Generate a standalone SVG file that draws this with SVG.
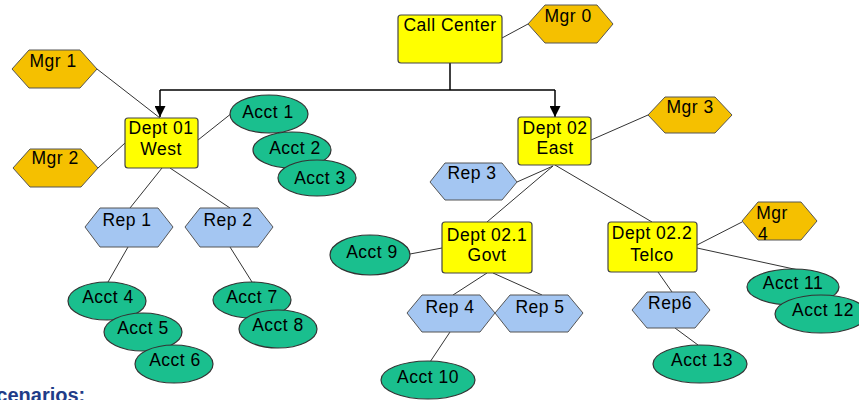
<svg xmlns="http://www.w3.org/2000/svg" width="859" height="400" viewBox="0 0 859 400">
<defs>
<marker id="arr" viewBox="0 0 10 10" refX="10" refY="5" markerWidth="11" markerHeight="11" markerUnits="userSpaceOnUse" orient="auto">
<path d="M0,0 L10,5 L0,10 Z" fill="#000"/>
</marker>
</defs>
<style>
text{font-family:"Liberation Sans",Arial,sans-serif;font-size:17.5px;letter-spacing:0.5px;fill:#000;text-anchor:middle}
.dept{fill:#ffff00;stroke:#444;stroke-width:1.2}
.mgr{fill:#f5c000;stroke:#555;stroke-width:1}
.rep{fill:#a4c6f2;stroke:#555;stroke-width:1}
.acct{fill:#1abf8e;stroke:#333;stroke-width:1.2}
.ln{stroke:#333;stroke-width:1;fill:none}
.main{stroke:#000;stroke-width:1.5;fill:none}
.title{font-weight:bold;fill:#1f3c88;font-size:20px;text-anchor:start;letter-spacing:0}
</style>
<rect width="859" height="400" fill="#fff"/>
<g id="connectors">
<path class="main" d="M450,63 V90"/>
<path class="main" d="M160,90 H555"/>
<path class="main" d="M160,90 V117" marker-end="url(#arr)"/>
<path class="main" d="M555,90 V117" marker-end="url(#arr)"/>
<line class="ln" x1="502" y1="38" x2="528" y2="24"/>
<line class="ln" x1="97" y1="69" x2="160" y2="118"/>
<line class="ln" x1="98" y1="168" x2="125" y2="143"/>
<line class="ln" x1="198" y1="140" x2="232" y2="113"/>
<line class="ln" x1="162" y1="168" x2="130" y2="208"/>
<line class="ln" x1="170" y1="168" x2="230" y2="208"/>
<line class="ln" x1="128" y1="247" x2="108" y2="282"/>
<line class="ln" x1="230" y1="247" x2="252" y2="282"/>
<line class="ln" x1="591" y1="140" x2="648" y2="115"/>
<line class="ln" x1="555" y1="165" x2="652" y2="222"/>
<line class="ln" x1="553" y1="166" x2="487" y2="222"/>
<line class="ln" x1="517" y1="182" x2="553" y2="166"/>
<line class="ln" x1="410" y1="254" x2="442" y2="248"/>
<line class="ln" x1="487" y1="273" x2="453" y2="295"/>
<line class="ln" x1="493" y1="273" x2="542" y2="295"/>
<line class="ln" x1="450" y1="332" x2="430" y2="362"/>
<line class="ln" x1="697" y1="245" x2="742" y2="222"/>
<line class="ln" x1="697" y1="248" x2="803" y2="271"/>
<line class="ln" x1="658" y1="272" x2="672" y2="292"/>
<line class="ln" x1="675" y1="328" x2="698" y2="345"/>
</g>
<g id="callcenter"><rect class="dept" x="398" y="15" width="104" height="48" rx="3"/><text x="450" y="31">Call Center</text></g>
<g id="mgr0"><polygon class="mgr" points="528,24 545,5 597,5 613,24 597,43 545,43"/><text x="568" y="22">Mgr 0</text></g>
<g id="mgr1"><polygon class="mgr" points="12,69 29,50 80,50 97,69 80,88 29,88"/><text x="53" y="67">Mgr 1</text></g>
<g id="mgr2"><polygon class="mgr" points="13,168 30,149 81,149 98,168 81,187 30,187"/><text x="55" y="164">Mgr 2</text></g>
<g id="dept01"><rect class="dept" x="125" y="118" width="73" height="50" rx="3"/><text x="161" y="134">Dept 01</text><text x="161" y="155">West</text></g>
<g id="acct1"><ellipse class="acct" cx="269" cy="114" rx="39" ry="19"/><text x="268" y="118">Acct 1</text></g>
<g id="acct2"><ellipse class="acct" cx="292" cy="150" rx="39" ry="18"/><text x="295" y="154">Acct 2</text></g>
<g id="acct3"><ellipse class="acct" cx="317" cy="178" rx="39" ry="18"/><text x="320" y="184">Acct 3</text></g>
<g id="rep1"><polygon class="rep" points="85,227 100,208 158,208 173,227 158,247 100,247"/><text x="127" y="226">Rep 1</text></g>
<g id="rep2"><polygon class="rep" points="185,227 200,208 258,208 273,227 258,247 200,247"/><text x="228" y="226">Rep 2</text></g>
<g id="acct4"><ellipse class="acct" cx="107" cy="301" rx="39" ry="19"/><text x="108" y="303">Acct 4</text></g>
<g id="acct5"><ellipse class="acct" cx="143" cy="332" rx="39" ry="19"/><text x="143" y="334">Acct 5</text></g>
<g id="acct6"><ellipse class="acct" cx="174" cy="364" rx="39" ry="19"/><text x="175" y="366">Acct 6</text></g>
<g id="acct7"><ellipse class="acct" cx="252" cy="300" rx="39" ry="18"/><text x="252" y="303">Acct 7</text></g>
<g id="acct8"><ellipse class="acct" cx="278" cy="329" rx="39" ry="19"/><text x="278" y="331">Acct 8</text></g>
<g id="dept02"><rect class="dept" x="518" y="117" width="73" height="48" rx="3"/><text x="555" y="134">Dept 02</text><text x="555" y="154">East</text></g>
<g id="mgr3"><polygon class="mgr" points="648,115 665,97 715,97 732,115 715,133 665,133"/><text x="690" y="113">Mgr 3</text></g>
<g id="rep3"><polygon class="rep" points="430,182 445,163 502,163 517,182 502,200 445,200"/><text x="472" y="179">Rep 3</text></g>
<g id="dept021"><rect class="dept" x="442" y="222" width="90" height="51" rx="3"/><text x="487" y="241">Dept 02.1</text><text x="487" y="261">Govt</text></g>
<g id="acct9"><ellipse class="acct" cx="370" cy="255" rx="40" ry="20"/><text x="372" y="258">Acct 9</text></g>
<g id="rep4"><polygon class="rep" points="407,313 422,295 480,295 495,313 480,332 422,332"/><text x="450" y="313">Rep 4</text></g>
<g id="rep5"><polygon class="rep" points="495,313 510,295 568,295 583,313 568,332 510,332"/><text x="540" y="313">Rep 5</text></g>
<g id="acct10"><ellipse class="acct" cx="428" cy="380" rx="47" ry="19"/><text x="428" y="383">Acct 10</text></g>
<g id="dept022"><rect class="dept" x="608" y="222" width="89" height="50" rx="3"/><text x="652" y="239">Dept 02.2</text><text x="652" y="261">Telco</text></g>
<g id="mgr4"><polygon class="mgr" points="742,221 758,202 801,202 817,221 801,240 758,240"/><text x="772" y="219">Mgr</text><text x="763" y="240">4</text></g>
<g id="acct11"><ellipse class="acct" cx="793" cy="287" rx="46" ry="18"/><text x="793" y="289">Acct 11</text></g>
<g id="acct12"><ellipse class="acct" cx="821" cy="314" rx="46" ry="19"/><text x="823" y="316">Acct 12</text></g>
<g id="rep6"><polygon class="rep" points="632,310 647,292 695,292 710,310 695,328 647,328"/><text x="670" y="309">Rep6</text></g>
<g id="acct13"><ellipse class="acct" cx="700" cy="364" rx="47" ry="19"/><text x="702" y="366">Acct 13</text></g>
<text class="title" x="-17" y="402">Scenarios:</text>
</svg>
